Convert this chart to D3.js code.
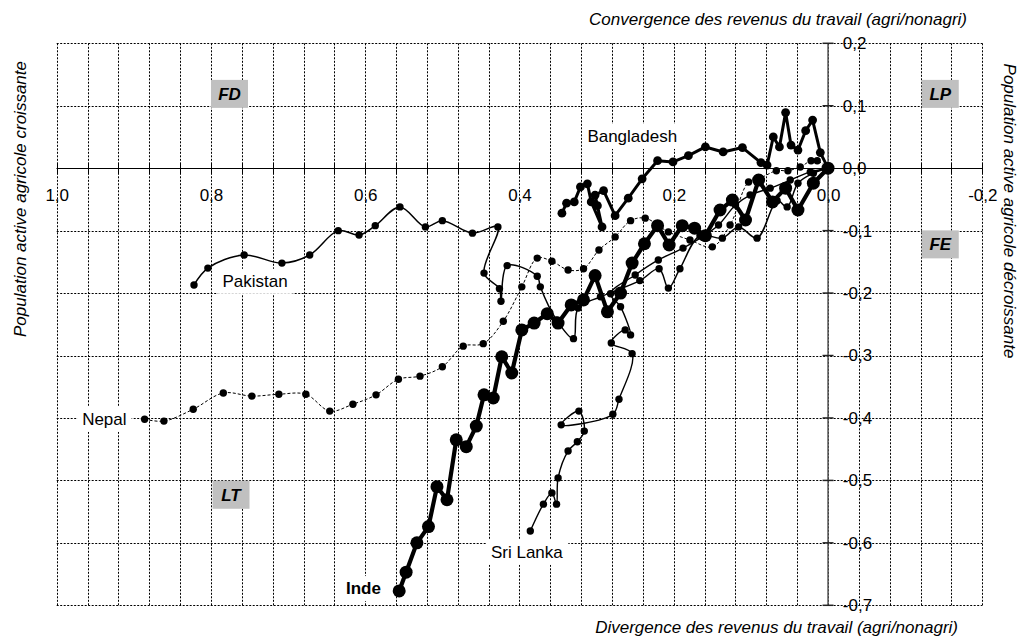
<!DOCTYPE html>
<html>
<head>
<meta charset="utf-8">
<script src="https://cdn.jsdelivr.net/npm/d3@7"></script>
<style>
  body { margin: 0; background: #fff; }
  svg { display: block; font-family: "Liberation Sans", Arial, sans-serif; }
</style>
</head>
<body>
<div id="chart"></div>
<script>
// data : x = divergence/convergence des revenus, y = population active agricole
var inde = [[0.556,-0.677],[0.547,-0.647],[0.533,-0.600],[0.518,-0.574],[0.507,-0.510],[0.494,-0.531],
  [0.482,-0.435],[0.469,-0.446],[0.456,-0.413],[0.446,-0.363],[0.434,-0.368],[0.423,-0.302],[0.410,-0.328],
  [0.397,-0.259],[0.381,-0.248],[0.364,-0.233],[0.350,-0.248],[0.333,-0.219],[0.317,-0.211],[0.302,-0.172],
  [0.286,-0.230],[0.269,-0.200],[0.254,-0.152],[0.238,-0.121],[0.221,-0.092],[0.206,-0.123],[0.189,-0.092],
  [0.173,-0.096],[0.159,-0.108],[0.140,-0.067],[0.124,-0.051],[0.107,-0.083],[0.090,-0.019],[0.072,-0.054],
  [0.055,-0.032],[0.039,-0.067],[0.019,-0.024],[0,0]];

var bangladesh = [[0.345,-0.072],[0.339,-0.056],[0.329,-0.054],[0.321,-0.030],[0.312,-0.025],[0.307,-0.054],
  [0.293,-0.094],[0.299,-0.060],[0.302,-0.043],[0.291,-0.036],[0.276,-0.076],[0.259,-0.048],[0.241,-0.017],
  [0.221,0.012],[0.201,0.010],[0.181,0.020],[0.159,0.034],[0.136,0.026],[0.111,0.033],[0.087,0.009],
  [0.079,0.005],[0.071,0.050],[0.063,0.034],[0.055,0.089],[0.048,0.037],[0.039,0.029],[0.029,0.060],
  [0.020,0.077],[0.010,0.025],[0,0]];

var pakistan = [[0.822,-0.187],[0.804,-0.160],[0.757,-0.139],[0.708,-0.152],[0.672,-0.139],[0.635,-0.100],
  [0.608,-0.107],[0.587,-0.092],[0.555,-0.062],[0.522,-0.094],[0.500,-0.084],[0.461,-0.104],[0.428,-0.094],
  [0.446,-0.168],[0.426,-0.193],[0.424,-0.213],[0.416,-0.156],[0.377,-0.173],[0.373,-0.190],[0.352,-0.243],
  [0.330,-0.273],[0.324,-0.224],[0.295,-0.206],[0.244,-0.180],[0.219,-0.161],[0.207,-0.192],[0.192,-0.161],
  [0.166,-0.108],[0.137,-0.112],[0.116,-0.094],[0.092,-0.112],[0.066,-0.052],[0.053,-0.062],[0.039,-0.024],
  [0.019,-0.008],[0,0]];

var sriLanka = [[0.386,-0.581],[0.369,-0.538],[0.358,-0.520],[0.352,-0.538],[0.350,-0.496],[0.337,-0.453],
  [0.325,-0.438],[0.316,-0.421],[0.323,-0.389],[0.346,-0.411],[0.279,-0.394],[0.271,-0.370],[0.254,-0.297],
  [0.281,-0.280],[0.263,-0.259],[0.256,-0.267],[0.269,-0.222],[0.282,-0.201],[0.250,-0.171],[0.220,-0.147],
  [0.188,-0.128],[0.163,-0.110],[0.142,-0.091],[0.120,-0.059],[0.101,-0.043],[0.075,-0.032],[0.049,-0.019],
  [0.023,-0.006],[0,0]];

var nepal = [[0.886,-0.402],[0.861,-0.405],[0.823,-0.386],[0.784,-0.360],[0.747,-0.365],[0.712,-0.362],
  [0.677,-0.362],[0.646,-0.389],[0.616,-0.378],[0.586,-0.363],[0.557,-0.338],[0.529,-0.333],[0.500,-0.318],
  [0.473,-0.285],[0.447,-0.281],[0.421,-0.245],[0.397,-0.190],[0.377,-0.144],[0.358,-0.149],[0.337,-0.163],
  [0.317,-0.161],[0.297,-0.131],[0.276,-0.110],[0.256,-0.084],[0.237,-0.080],[0.207,-0.102],[0.179,-0.115],
  [0.150,-0.126],[0.127,-0.091],[0.103,-0.022],[0.088,-0.016],[0.067,-0.004],[0.052,-0.004],[0.036,0.002],
  [0.022,0.012],[0.014,0.012],[0,0]];

// tick values
var xLabelValues = [1.0, 0.8, 0.6, 0.4, 0.2, 0.0, -0.2];
var yLabelValues = [0.2, 0.1, 0.0, -0.1, -0.2, -0.3, -0.4, -0.5, -0.6, -0.7];

// series labels (text start, baseline) and zone labels (centre)
var countryNames = ["Bangladesh", "Pakistan", "Nepal", "Sri Lanka", "Inde"];
var countryLabelPos = [[0.312, 0.042], [0.785, -0.190], [0.967, -0.411], [0.437, -0.624], [0.625, -0.682]];
var zoneNames = ["FD", "LP", "FE", "LT"];
var zonePos = [[0.776, 0.119], [-0.1455, 0.119], [-0.1455, -0.122], [0.774, -0.523]];

var width = 1021, height = 638;

var svg = d3.select("#chart")
  .append("svg")
  .attr("width", width)
  .attr("height", height);

var x = d3.scaleLinear().domain([1.0, -0.2]).range([56.7, 982.3]);
var y = d3.scaleLinear().domain([0.2, -0.7]).range([43.3, 605.3]);

var fr = d3.formatLocale({decimal: ",", thousands: " ", grouping: [3], currency: ["", ""], minus: "-"});
var fmt = fr.format(".1f");

// grid (dotted)
var vGrid = d3.range(0, 31).map(function(i) { return 1 - i * 0.04; });
var hGrid = d3.range(0, 10).map(function(i) { return 0.2 - i * 0.1; });

svg.append("g").selectAll("line")
  .data(vGrid)
  .enter()
  .append("line")
    .attr("x1", function(d) { return Math.round(x(d)) + 0.5; })
    .attr("x2", function(d) { return Math.round(x(d)) + 0.5; })
    .attr("y1", y(0.2))
    .attr("y2", y(-0.7))
    .style("stroke", "#000")
    .style("stroke-width", 1)
    .style("stroke-dasharray", "2,1.5");

svg.append("g").selectAll("line")
  .data(hGrid)
  .enter()
  .append("line")
    .attr("x1", x(1.0))
    .attr("x2", x(-0.2))
    .attr("y1", function(d) { return Math.round(y(d)) + 0.5; })
    .attr("y2", function(d) { return Math.round(y(d)) + 0.5; })
    .style("stroke", "#000")
    .style("stroke-width", 1)
    .style("stroke-dasharray", "2,1.5");

// x axis line at y = 0
svg.append("line")
  .attr("x1", x(1.0)).attr("x2", x(-0.2))
  .attr("y1", Math.round(y(0)) + 0.5).attr("y2", Math.round(y(0)) + 0.5)
  .style("stroke", "#000")
  .style("stroke-width", 1.2);

// crossing ticks on x axis
svg.append("g").selectAll("line")
  .data(vGrid)
  .enter()
  .append("line")
    .attr("x1", function(d) { return Math.round(x(d)) + 0.5; })
    .attr("x2", function(d) { return Math.round(x(d)) + 0.5; })
    .attr("y1", y(0) - 5)
    .attr("y2", y(0) + 5)
    .style("stroke", "#000");

// y axis line at x = 0
svg.append("line")
  .attr("x1", x(0)).attr("x2", x(0))
  .attr("y1", y(0.2)).attr("y2", y(-0.7))
  .style("stroke", "#555")
  .style("stroke-width", 1.5);

svg.append("g").selectAll("line")
  .data(yLabelValues)
  .enter()
  .append("line")
    .attr("x1", x(0) - 5.5)
    .attr("x2", x(0) + 5.5)
    .attr("y1", function(d) { return y(d); })
    .attr("y2", function(d) { return y(d); })
    .style("stroke", "#222")
    .style("stroke-width", 1.5);

// axis labels
var xAxis = svg.append("g")
  .attr("transform", "translate(0," + y(0) + ")")
  .call(d3.axisBottom(x).tickValues(xLabelValues).tickFormat(fmt).tickSize(0).tickPadding(20.6));
xAxis.select(".domain").remove();
xAxis.selectAll("text")
  .style("font-size", "17px")
  .style("font-family", "Liberation Sans, Arial, sans-serif")
  .style("fill", "#000");

var yAxis = svg.append("g")
  .attr("transform", "translate(" + x(0) + ",0)")
  .call(d3.axisRight(y).tickValues(yLabelValues).tickFormat(fmt).tickSize(0).tickPadding(14.8));
yAxis.select(".domain").remove();
yAxis.selectAll("text")
  .style("font-size", "17px")
  .style("font-family", "Liberation Sans, Arial, sans-serif")
  .style("fill", "#000");

// titles
svg.append("text")
  .text("Convergence des revenus du travail (agri/nonagri)")
  .attr("x", 967).attr("y", 25)
  .attr("text-anchor", "end")
  .style("font-size", "17px")
  .style("font-style", "italic");

svg.append("text")
  .text("Divergence des revenus du travail (agri/nonagri)")
  .attr("x", 958).attr("y", 633)
  .attr("text-anchor", "end")
  .style("font-size", "17px")
  .style("font-style", "italic");

svg.append("text")
  .text("Population active agricole croissante")
  .attr("transform", "translate(26,199) rotate(-90)")
  .attr("text-anchor", "middle")
  .style("font-size", "17px")
  .style("font-style", "italic");

svg.append("text")
  .text("Population active agricole décroissante")
  .attr("transform", "translate(1004,211) rotate(90)")
  .attr("text-anchor", "middle")
  .style("font-size", "17px")
  .style("font-style", "italic");

// zone boxes
zoneNames.forEach(function(name, i) {
  var g = svg.append("g");
  g.append("rect")
    .attr("x", x(zonePos[i][0]) - 18.5)
    .attr("y", y(zonePos[i][1]) - 14)
    .attr("width", 37)
    .attr("height", 28)
    .style("fill", "#c0c0c0");
  g.append("text")
    .text(name)
    .attr("x", x(zonePos[i][0]))
    .attr("y", y(zonePos[i][1]) + 6)
    .attr("text-anchor", "middle")
    .style("font-size", "17px")
    .style("font-weight", "bold")
    .style("font-style", "italic");
});

// series
var series = [
  {data: nepal, width: 1, dash: "3,2", r: 3.7, curve: d3.curveCatmullRom.alpha(0.5)},
  {data: pakistan, width: 1.5, dash: null, r: 3.7, curve: d3.curveCatmullRom.alpha(0.5)},
  {data: sriLanka, width: 1.4, dash: null, r: 3.7, curve: d3.curveCatmullRom.alpha(0.5)},
  {data: bangladesh, width: 3, dash: null, r: 4.4, curve: d3.curveLinear},
  {data: inde, width: 4.2, dash: null, r: 6.5, curve: d3.curveLinear}
];

series.forEach(function(s) {
  var line = d3.line()
    .x(function(d) { return x(d[0]); })
    .y(function(d) { return y(d[1]); })
    .curve(s.curve);

  svg.append("path")
    .datum(s.data)
    .attr("d", line)
    .style("fill", "none")
    .style("stroke", "#000")
    .style("stroke-width", s.width)
    .style("stroke-linejoin", "round")
    .style("stroke-dasharray", s.dash);

  svg.append("g").selectAll("circle")
    .data(s.data)
    .enter()
    .append("circle")
      .attr("cx", function(d) { return x(d[0]); })
      .attr("cy", function(d) { return y(d[1]); })
      .attr("r", s.r)
      .style("fill", "#000");
});

// country labels with white background
countryNames.forEach(function(name, i) {
  var g = svg.append("g");
  var t = g.append("text")
    .text(name)
    .attr("x", x(countryLabelPos[i][0]))
    .attr("y", y(countryLabelPos[i][1]))
    .style("font-size", "17px")
    .style("font-weight", name == "Inde" ? "bold" : "normal");
  var b = t.node().getBBox();
  g.insert("rect", "text")
    .attr("x", b.x - 5)
    .attr("y", b.y - 3)
    .attr("width", b.width + 10)
    .attr("height", b.height + 6)
    .style("fill", "#fff");
});
</script>
</body>
</html>
